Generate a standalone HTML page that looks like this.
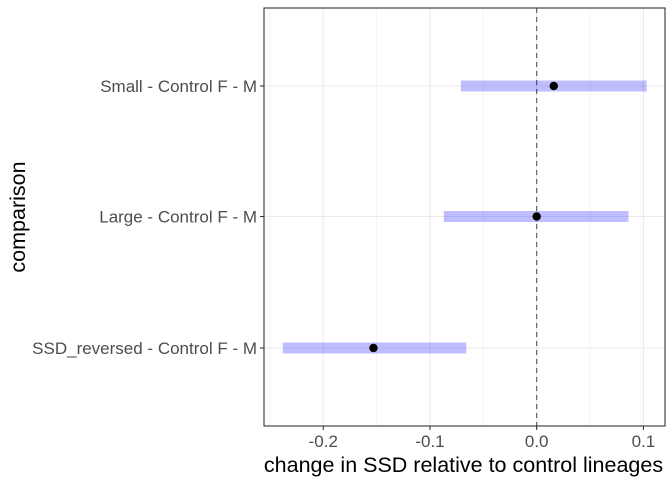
<!DOCTYPE html>
<html><head><meta charset="utf-8"><style>
body{margin:0;background:#fff}
svg{display:block;font-family:"Liberation Sans",sans-serif}
</style></head><body>
<svg id="chart" width="672" height="480">
<rect x="0" y="0" width="672" height="480" fill="#fff"/>
<g id="grid"></g>
<g id="marks"></g>
<g id="axes"></g>
<text x="463.5" y="472" font-size="21.5" fill="#000" text-anchor="middle">change in SSD relative to control lineages</text>
<text transform="translate(25,217) rotate(-90)" font-size="21.5" fill="#000" text-anchor="middle">comparison</text>
</svg>
<script>
const categories = ["Small - Control F - M", "Large - Control F - M", "SSD_reversed - Control F - M"];
const estimates = [0.016, 0.0, -0.153];
const lowers = [-0.071, -0.087, -0.238];
const uppers = [0.103, 0.086, -0.066];
const xTicks = [-0.2, -0.1, 0.0, 0.1];
const xTickLabels = ["-0.2", "-0.1", "0.0", "0.1"];
const xMinor = [-0.25, -0.15, -0.05, 0.05];

const L = 264, R = 665, T = 8, B = 426;
const x = v => 536.7 + v * 1067;
const rowY = [86, 216.5, 348];
const y = i => rowY[i];
const NS = "http://www.w3.org/2000/svg";
function mk(tag, attrs, parent, txt){
  const e = document.createElementNS(NS, tag);
  for (const k in attrs) e.setAttribute(k, attrs[k]);
  if (txt !== undefined) e.textContent = txt;
  parent.appendChild(e); return e;
}
const grid = document.getElementById('grid'), marks = document.getElementById('marks'), axes = document.getElementById('axes');
xMinor.forEach(v => {
  const l = mk('line', {x1:x(v), x2:x(v), y1:T, y2:B, stroke:'#f0f0f0', 'stroke-width':0.8}, grid);
  
  
});
xTicks.forEach(v => {
  const l = mk('line', {x1:x(v), x2:x(v), y1:T, y2:B, stroke:'#ebebeb', 'stroke-width':1.1}, grid);
  
  
});
categories.forEach((c, i) => {
  const l = mk('line', {x1:L, x2:R, y1:y(i), y2:y(i), stroke:'#ebebeb', 'stroke-width':1.1}, grid);
  
  
});
const zl = mk('line', {x1:x(0), x2:x(0), y1:T, y2:B, stroke:'#555', 'stroke-width':1.1, 'stroke-dasharray':'5,4'}, marks);


categories.forEach((c, i) => {
  const r = mk('rect', {x:x(lowers[i]), y:y(i)-5.5, width:x(uppers[i])-x(lowers[i]), height:11, fill:'#0000ff', 'fill-opacity':0.25}, marks);
  
  
  const p = mk('circle', {cx:x(estimates[i]), cy:y(i), r:4.2, fill:'#000'}, marks);
  
  
  const tk = mk('line', {x1:L-4, x2:L, y1:y(i), y2:y(i), stroke:'#333', 'stroke-width':1.1}, axes);
  
  
  const t = mk('text', {x:L-7, y:y(i)+6, 'font-size':17, fill:'#4d4d4d', 'text-anchor':'end'}, axes, c);
  
  
});
xTicks.forEach((v, i) => {
  const tk = mk('line', {x1:x(v), x2:x(v), y1:B, y2:B+4, stroke:'#333', 'stroke-width':1.1}, axes);
  
  
  const t = mk('text', {x:x(v), y:B+21, 'font-size':17, fill:'#4d4d4d', 'text-anchor':'middle'}, axes, xTickLabels[i]);
  
  
});
const border = mk('rect', {x:L, y:T, width:R-L, height:B-T, fill:'none', stroke:'#333', 'stroke-width':1.1}, axes);


</script>
</body></html>
